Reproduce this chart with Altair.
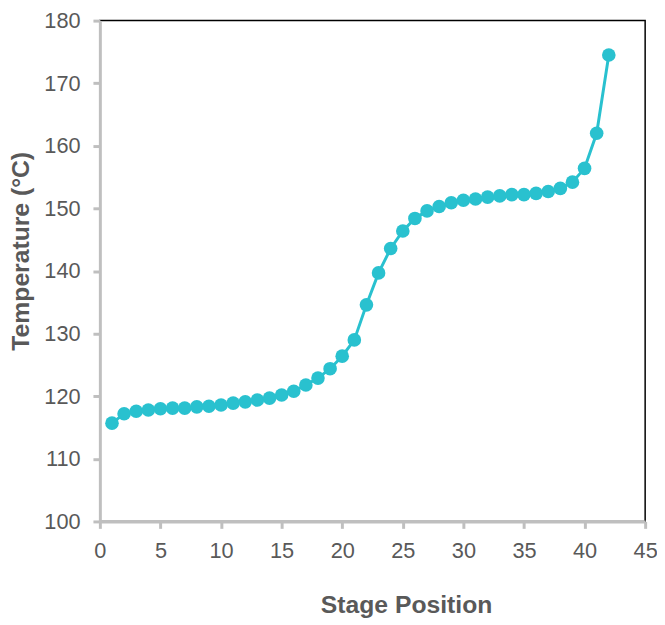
import altair as alt
import pandas as pd

stage = list(range(1, 43))
temperature = [
    115.7, 117.2, 117.6, 117.8, 118.0, 118.1, 118.1, 118.3, 118.4, 118.6,
    118.9, 119.1, 119.4, 119.7, 120.2, 120.8, 121.8, 122.9, 124.4, 126.4,
    129.0, 134.6, 139.7, 143.6, 146.4, 148.4, 149.6, 150.3, 150.9, 151.3,
    151.5, 151.8, 152.0, 152.2, 152.2, 152.4, 152.7, 153.2, 154.2, 156.4,
    162.0, 174.5,
]

df = pd.DataFrame({"Stage Position": stage, "Temperature": temperature})

color = "#29C1CF"
grey_text = "#595959"

x = alt.X(
    "Stage Position:Q",
    scale=alt.Scale(domain=[0, 45], nice=False, zero=False),
    axis=alt.Axis(
        title="Stage Position",
        values=list(range(0, 50, 5)),
        grid=False,
        labelFlush=False,
        domainColor="#BFBFBF",
        domainWidth=3,
        tickColor="#BFBFBF",
        tickWidth=3,
        tickSize=7,
        labelPadding=13,
        labelFont="Liberation Sans",
        labelFontSize=22,
        labelColor=grey_text,
        titleFont="Liberation Sans",
        titleFontSize=25,
        titleFontWeight="bold",
        titleColor=grey_text,
        titleX=310,
        titleY=92,
        titleAlign="center",
        titleBaseline="alphabetic",
    ),
)
y = alt.Y(
    "Temperature:Q",
    scale=alt.Scale(domain=[100, 180], nice=False, zero=False),
    axis=alt.Axis(
        title="Temperature (°C)",
        values=list(range(100, 190, 10)),
        grid=False,
        labelFlush=False,
        domainColor="#BFBFBF",
        domainWidth=3,
        tickColor="#BFBFBF",
        tickWidth=3,
        tickSize=7,
        labelPadding=13,
        labelFont="Liberation Sans",
        labelFontSize=22,
        labelColor=grey_text,
        titleFont="Liberation Sans",
        titleFontSize=25,
        titleFontWeight="bold",
        titleColor=grey_text,
        titleX=-72,
        titleY=233,
        titleAngle=-90,
        titleAlign="center",
        titleBaseline="alphabetic",
    ),
)

line = alt.Chart(df).mark_line(color=color, strokeWidth=3).encode(x=x, y=y)
points = alt.Chart(df).mark_circle(color=color, size=190, opacity=1).encode(x=x, y=y)

chart = (
    alt.layer(line, points)
    .properties(
        width=552,
        height=507,
        autosize="none",
        padding={"left": 93, "top": 9, "right": 12, "bottom": 95},
    )
    .configure_view(stroke="black", strokeWidth=1.5)
)

chart.save("out.html", embed_options={"renderer": "svg", "actions": False})
